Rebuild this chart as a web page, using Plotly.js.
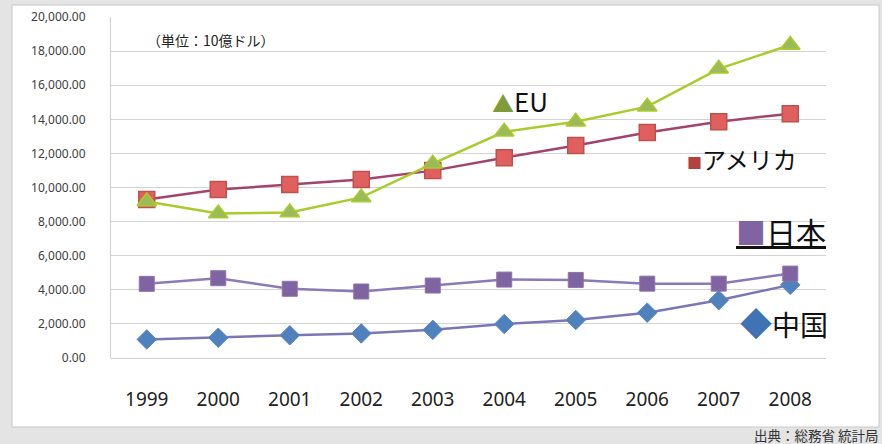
<!DOCTYPE html>
<html>
<head>
<meta charset="utf-8">
<script src="https://cdn.plot.ly/plotly-3.0.1.min.js"></script>
<style>
  html, body { margin: 0; padding: 0; background: #e4e4e4; }
  #chart { width: 882px; height: 444px; }
</style>
</head>
<body>
<div id="chart"></div>
<script>
// ---- data (単位: 10億ドル) ----
const years = ['1999','2000','2001','2002','2003','2004','2005','2006','2007','2008'];
const euValues    = [9180, 8480, 8540, 9420, 11400, 13270, 13860, 14740, 16960, 18360];
const usaValues   = [9300, 9880, 10170, 10470, 10990, 11750, 12460, 13220, 13860, 14330];
const japanValues = [4350, 4680, 4060, 3900, 4250, 4600, 4580, 4360, 4360, 4950];
const chinaValues = [1090, 1190, 1330, 1440, 1650, 1990, 2230, 2660, 3390, 4290];
const yTickValues = [0, 2000, 4000, 6000, 8000, 10000, 12000, 14000, 16000, 18000, 20000];

const jp = '"Noto Sans CJK JP", "Noto Sans", sans-serif';

const traces = [
  {
    x: years, y: chinaValues, name: '中国', type: 'scatter', mode: 'lines+markers',
    line: { color: '#7b77b6', width: 2.5 },
    marker: { symbol: 'diamond', size: 15, color: '#4f81bd', line: { color: '#5b86c2', width: 1 } }
  },
  {
    x: years, y: japanValues, name: '日本', type: 'scatter', mode: 'lines+markers',
    line: { color: '#8a7ab6', width: 2.5 },
    marker: { symbol: 'square', size: 15, color: '#8064a2', line: { color: '#8d73ad', width: 1 } }
  },
  {
    x: years, y: usaValues, name: 'アメリカ', type: 'scatter', mode: 'lines+markers',
    line: { color: '#a3446f', width: 2.5 },
    marker: { symbol: 'square', size: 16, color: '#e0605f', line: { color: '#c0504d', width: 1.5 } }
  },
  {
    x: years, y: euValues, name: 'EU', type: 'scatter', mode: 'lines+markers',
    line: { color: '#a9cb2c', width: 2.5 },
    marker: { symbol: 'triangle-up', size: 17, color: '#9bbb59', line: { color: '#a9cb2c', width: 1.5 } }
  }
];

const L = 111, R = 826, T = 17, B = 358;
function px(xp) { return (xp - L) / (R - L); }
function py(yp) { return (B - yp) / (B - T); }

const layout = {
  width: 882, height: 444,
  margin: { l: L, r: 882 - R, t: T, b: 444 - B },
  paper_bgcolor: '#e4e4e4',
  plot_bgcolor: '#ffffff',
  showlegend: false,
  xaxis: {
    type: 'category', range: [-0.5, 9.5],
    showgrid: false, zeroline: false, showline: false,
    ticks: '', ticklabelstandoff: 28,
    tickfont: { family: '"Noto Sans", sans-serif', size: 19, color: '#222222' }
  },
  yaxis: {
    range: [0, 20000], tickvals: yTickValues, tickformat: ',.2f',
    showgrid: true, gridcolor: '#d3d3d3', gridwidth: 1,
    zeroline: true, zerolinecolor: '#cfcfcf', zerolinewidth: 1,
    showline: true, linecolor: '#cfcfcf', linewidth: 1,
    ticks: '', ticklabelstandoff: 22,
    tickfont: { family: '"Noto Sans", sans-serif', size: 12, color: '#404040' }
  },
  shapes: [
    { type: 'rect', xref: 'paper', yref: 'paper', layer: 'below',
      x0: px(12), x1: px(879), y0: py(427), y1: py(5),
      fillcolor: '#ffffff', line: { color: '#c8c8c8', width: 1 } }
  ],
  annotations: [
    { xref: 'paper', yref: 'paper', x: px(145), y: py(40), xanchor: 'left', yanchor: 'middle',
      showarrow: false, text: '（単位：10億ドル）',
      font: { family: jp, size: 14, color: '#222222' } },
    { xref: 'paper', yref: 'paper', x: px(490), y: py(100), xanchor: 'left', yanchor: 'middle',
      showarrow: false,
      text: '<span style="color:#7f9b3a;font-size:22px">▲</span>EU',
      font: { family: jp, size: 26, color: '#111111' } },
    { xref: 'paper', yref: 'paper', x: px(685), y: py(158), xanchor: 'left', yanchor: 'middle',
      showarrow: false,
      text: '<span style="color:#b3413f;font-size:15px">■</span>アメリカ',
      font: { family: jp, size: 24, color: '#111111' } },
    { xref: 'paper', yref: 'paper', x: px(734), y: py(231), xanchor: 'left', yanchor: 'middle',
      showarrow: false,
      text: '<u><span style="color:#8064a2">■</span>日本</u>',
      font: { family: jp, size: 30, color: '#111111' } },
    { xref: 'paper', yref: 'paper', x: px(738), y: py(322), xanchor: 'left', yanchor: 'middle',
      showarrow: false,
      text: '<span style="color:#3f73b3;font-size:32px">◆</span>中国',
      font: { family: jp, size: 28, color: '#111111' } },
    { xref: 'paper', yref: 'paper', x: px(881), y: py(435), xanchor: 'right', yanchor: 'middle',
      showarrow: false, text: '出典：総務省 統計局',
      font: { family: jp, size: 13.5, color: '#333333' } }
  ]
};

Plotly.newPlot('chart', traces, layout, { displayModeBar: false, staticPlot: true });
</script>
</body>
</html>
